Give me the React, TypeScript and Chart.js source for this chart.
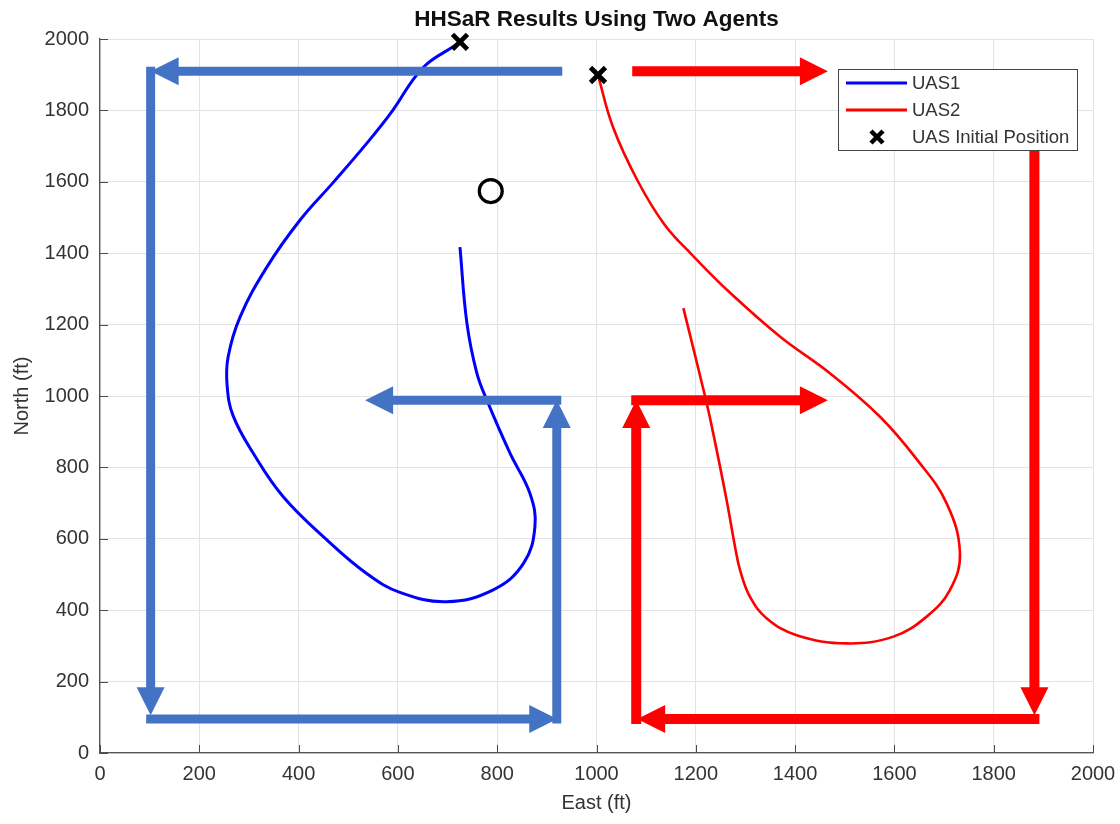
import React, { useEffect, useRef } from "react";
import { Chart, registerables } from "chart.js";

Chart.register(...registerables);

const FONT = "'Liberation Sans', Arial, Helvetica, sans-serif";

// Flight path of UAS1 (East, North in ft)
const uas1East = [725, 711, 661, 630, 590, 538, 469, 403, 336, 282, 258, 256, 268, 309, 369, 457, 537, 604, 698, 792, 853, 876, 866, 826, 779, 759, 739, 725];
const uas1North = [1992, 1978, 1933, 1885, 1801, 1709, 1597, 1493, 1361, 1221, 1109, 1030, 945, 839, 718, 597, 503, 450, 424, 457, 531, 634, 727, 839, 989, 1064, 1204, 1417];

// Flight path of UAS2 (East, North in ft)
const uas2East = [1003, 1033, 1082, 1136, 1192, 1269, 1370, 1470, 1571, 1646, 1705, 1732, 1712, 1665, 1598, 1504, 1403, 1343, 1309, 1289, 1279, 1262, 1235, 1219, 1175];
const uas2North = [1899, 1754, 1605, 1482, 1396, 1289, 1166, 1064, 942, 821, 700, 560, 457, 382, 326, 307, 330, 377, 438, 513, 578, 709, 896, 997, 1246];

// Starting points of both vehicles
const initEast = [725, 1003];
const initNorth = [1992, 1899];

// Search target
const targetEast = [787];
const targetNorth = [1574];

// Sweep pattern arrows for UAS1: start (x0, y0) -> tip (x1, y1)
const sweep1X0 = [922, 102, 102, 920, 920];
const sweep1Y0 = [1910, 1910, 95, 95, 988];
const sweep1X1 = [102, 102, 921, 920, 534];
const sweep1Y1 = [1910, 106, 95, 989, 988];

// Sweep pattern arrows for UAS2
const sweep2X0 = [1082, 1882, 1882, 1080, 1080];
const sweep2Y0 = [1910, 1680, 95, 95, 988];
const sweep2X1 = [1466, 1882, 1082, 1080, 1466];
const sweep2Y1 = [1910, 106, 95, 989, 988];

const axisTicks = [0, 200, 400, 600, 800, 1000, 1200, 1400, 1600, 1800, 2000];

const BLUE_PATH = "#0000ff";
const RED_PATH = "#ff0000";
const BLUE_ARROW = "#4472c4";
const RED_ARROW = "#ff0000";
const TEXT = "#333333";

function zip(xs: number[], ys: number[]) {
  return xs.map((x, i) => ({ x, y: ys[i] }));
}

function drawArrow(ctx: CanvasRenderingContext2D, x0: number, y0: number, x1: number, y1: number, color: string, width: number) {
  const headLen = 28;
  const headHalf = 14;
  const dx = x1 - x0;
  const dy = y1 - y0;
  const len = Math.hypot(dx, dy);
  const ux = dx / len;
  const uy = dy / len;
  const bx = x1 - ux * headLen;
  const by = y1 - uy * headLen;
  ctx.save();
  ctx.strokeStyle = color;
  ctx.fillStyle = color;
  ctx.lineWidth = width;
  ctx.lineCap = "butt";
  ctx.beginPath();
  ctx.moveTo(x0 - ux * width / 2, y0 - uy * width / 2);
  ctx.lineTo(bx + ux * 2, by + uy * 2);
  ctx.stroke();
  ctx.beginPath();
  ctx.moveTo(x1, y1);
  ctx.lineTo(bx - uy * headHalf, by + ux * headHalf);
  ctx.lineTo(bx + uy * headHalf, by - ux * headHalf);
  ctx.closePath();
  ctx.fill();
  ctx.restore();
}

function drawCross(ctx: CanvasRenderingContext2D, cx: number, cy: number, half: number, lw: number) {
  ctx.save();
  ctx.strokeStyle = "#000";
  ctx.lineWidth = lw;
  ctx.beginPath();
  ctx.moveTo(cx - half, cy - half);
  ctx.lineTo(cx + half, cy + half);
  ctx.moveTo(cx - half, cy + half);
  ctx.lineTo(cx + half, cy - half);
  ctx.stroke();
  ctx.restore();
}

const overlayPlugin = {
  id: "searchOverlay",
  afterDatasetsDraw(chart: any) {
    const { ctx, scales } = chart;
    const xs = scales.x;
    const ys = scales.y;
    for (let i = 0; i < sweep1X0.length; i++) {
      drawArrow(ctx, xs.getPixelForValue(sweep1X0[i]), ys.getPixelForValue(sweep1Y0[i]), xs.getPixelForValue(sweep1X1[i]), ys.getPixelForValue(sweep1Y1[i]), BLUE_ARROW, 9);
    }
    for (let i = 0; i < sweep2X0.length; i++) {
      drawArrow(ctx, xs.getPixelForValue(sweep2X0[i]), ys.getPixelForValue(sweep2Y0[i]), xs.getPixelForValue(sweep2X1[i]), ys.getPixelForValue(sweep2Y1[i]), RED_ARROW, 10);
    }
    // markers on top of the sweep arrows
    for (let i = 0; i < initEast.length; i++) {
      drawCross(ctx, xs.getPixelForValue(initEast[i]), ys.getPixelForValue(initNorth[i]), 7.5, 4.8);
    }
    for (let i = 0; i < targetEast.length; i++) {
      ctx.save();
      ctx.strokeStyle = "#000";
      ctx.lineWidth = 3.2;
      ctx.beginPath();
      ctx.arc(xs.getPixelForValue(targetEast[i]), ys.getPixelForValue(targetNorth[i]), 11.5, 0, Math.PI * 2);
      ctx.stroke();
      ctx.restore();
    }
  },
  afterDraw(chart: any) {
    const { ctx, chartArea, scales } = chart;
    const xs = scales.x;
    const ys = scales.y;
    ctx.save();
    // inward tick marks on the left and bottom axes
    ctx.strokeStyle = "#4a4a4a";
    ctx.lineWidth = 1;
    ctx.beginPath();
    for (const v of axisTicks) {
      const px = Math.round(xs.getPixelForValue(v)) + 0.5;
      ctx.moveTo(px, chartArea.bottom);
      ctx.lineTo(px, chartArea.bottom - 8);
      const py = Math.round(ys.getPixelForValue(v)) + 0.5;
      ctx.moveTo(chartArea.left, py);
      ctx.lineTo(chartArea.left + 8, py);
    }
    ctx.stroke();

    // title
    ctx.fillStyle = "#111";
    ctx.font = `bold 22.5px ${FONT}`;
    ctx.textAlign = "center";
    ctx.textBaseline = "middle";
    ctx.fillText("HHSaR Results Using Two Agents", (chartArea.left + chartArea.right) / 2, 20);

    // legend box
    const lx = 838;
    const ly = 69;
    const lw = 239;
    const lh = 81;
    ctx.fillStyle = "#fff";
    ctx.fillRect(lx, ly, lw, lh);
    ctx.strokeStyle = "#444";
    ctx.lineWidth = 1;
    ctx.strokeRect(lx + 0.5, ly + 0.5, lw, lh);
    const rows = [
      { label: "UAS1", color: BLUE_PATH },
      { label: "UAS2", color: RED_PATH },
      { label: "UAS Initial Position", color: "" },
    ];
    ctx.font = `18.5px ${FONT}`;
    ctx.textAlign = "left";
    ctx.textBaseline = "middle";
    rows.forEach((r, i) => {
      const cy = ly + 14 + i * 27;
      if (r.color) {
        ctx.strokeStyle = r.color;
        ctx.lineWidth = 3;
        ctx.beginPath();
        ctx.moveTo(lx + 8, cy);
        ctx.lineTo(lx + 69, cy);
        ctx.stroke();
      } else {
        drawCross(ctx, lx + 39, cy, 6, 4.5);
      }
      ctx.fillStyle = TEXT;
      ctx.fillText(r.label, lx + 74, cy + 1);
    });
    ctx.restore();
  },
};

export default function App() {
  const canvasRef = useRef<HTMLCanvasElement | null>(null);

  useEffect(() => {
    const canvas = canvasRef.current;
    if (!canvas) return;
    const chart = new Chart(canvas, {
      type: "line",
      data: {
        datasets: [
          {
            label: "UAS1",
            data: zip(uas1East, uas1North),
            borderColor: BLUE_PATH,
            borderWidth: 3,
            pointRadius: 0,
            tension: 0.4,
            fill: false,
          },
          {
            label: "UAS2",
            data: zip(uas2East, uas2North),
            borderColor: RED_PATH,
            borderWidth: 2.6,
            pointRadius: 0,
            tension: 0.4,
            fill: false,
          },
        ],
      },
      options: {
        responsive: false,
        animation: false,
        parsing: false as any,
        layout: { padding: { top: 39, right: 27, left: 0, bottom: 0 } },
        plugins: {
          legend: { display: false },
          tooltip: { enabled: false },
          title: { display: false },
        },
        scales: {
          x: {
            type: "linear",
            min: 0,
            max: 2000,
            afterFit(s: any) {
              s.height = 71;
              s.paddingLeft = 0;
              s.paddingRight = 0;
            },
            afterBuildTicks(s: any) {
              s.ticks = axisTicks.map((v) => ({ value: v }));
            },
            ticks: {
              color: TEXT,
              font: { family: FONT, size: 20 },
              padding: 9,
              maxRotation: 0,
              autoSkip: false,
              callback: (v: any) => String(v),
            },
            grid: { color: "#e3e3e3", drawTicks: false, lineWidth: 1 },
            border: { color: "#555", width: 1.3 },
            title: {
              display: true,
              text: "East (ft)",
              color: TEXT,
              font: { family: FONT, size: 20 },
              padding: { top: 0, bottom: 9 },
            },
          },
          y: {
            type: "linear",
            min: 0,
            max: 2000,
            afterFit(s: any) {
              s.width = 100;
              s.paddingTop = 0;
              s.paddingBottom = 0;
            },
            afterBuildTicks(s: any) {
              s.ticks = axisTicks.map((v) => ({ value: v }));
            },
            ticks: {
              color: TEXT,
              font: { family: FONT, size: 20 },
              padding: 11,
              autoSkip: false,
              callback: (v: any) => String(v),
            },
            grid: { color: "#e3e3e3", drawTicks: false, lineWidth: 1 },
            border: { color: "#555", width: 1.3 },
            title: {
              display: true,
              text: "North (ft)",
              color: TEXT,
              font: { family: FONT, size: 20 },
              padding: { top: 10, bottom: 0 },
            },
          },
        },
      },
      plugins: [overlayPlugin],
    });
    return () => chart.destroy();
  }, []);

  return (
    <div style={{ position: "fixed", left: 0, top: 0, width: 1120, height: 824, background: "#fff" }}>
      <canvas ref={canvasRef} width={1120} height={824} style={{ display: "block", width: 1120, height: 824 }} />
    </div>
  );
}
